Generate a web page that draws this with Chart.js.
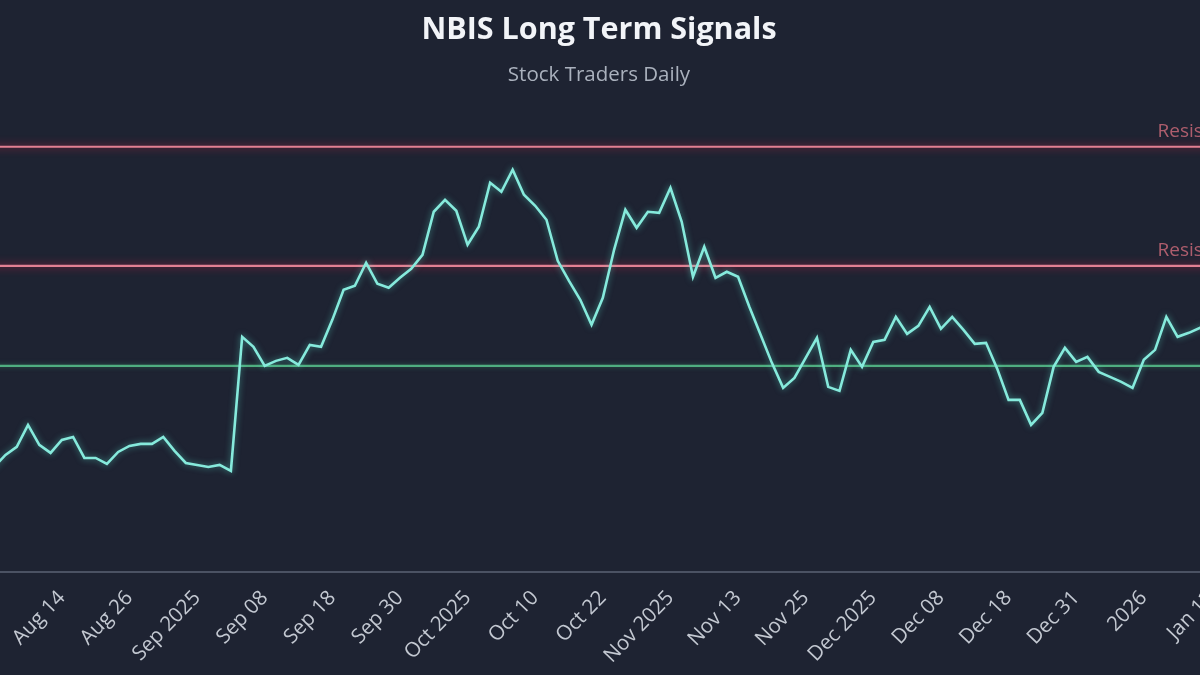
<!DOCTYPE html>
<html>
<head>
<meta charset="utf-8">
<script src="https://cdn.jsdelivr.net/npm/chart.js@4/dist/chart.umd.min.js"></script>
<style>
  html, body { margin: 0; padding: 0; background: #1e2332; overflow: hidden; }
  body { width: 1200px; height: 675px; position: relative; }
  #wrap { position: absolute; left: -70px; top: 0; width: 1340px; height: 675px; }
</style>
</head>
<body>
<div id="wrap"><canvas id="chart"></canvas></div>
<script>
// daily closes, one per trading day (left part is cut off in the original)
const prices = [
    69.2, 70.2, 68.8, 69.8, 72.2, 73.8, 78.2, 74.2, 72.6, 75.2,
    75.8, 71.6, 71.6, 70.4, 72.8, 74.0, 74.4, 74.4, 75.8, 73.0,
    70.6, 70.2, 69.8, 70.2, 69.0, 95.8, 93.8, 90.0, 91.0, 91.6,
    90.2, 94.2, 93.8, 99.2, 105.2, 106.0, 110.6, 106.4, 105.6, 107.6,
    109.4, 112.2, 120.8, 123.2, 121.0, 114.2, 117.8, 126.6, 124.8, 129.2,
    124.2, 122.0, 119.2, 111.0, 107.0, 103.2, 98.2, 103.6, 113.2, 121.2,
    117.6, 120.8, 120.6, 125.6, 118.8, 107.8, 113.8, 107.6, 108.8, 107.8,
    101.8, 96.2, 90.6, 85.6, 87.6, 91.6, 95.6, 85.8, 85.0, 93.2,
    89.8, 94.8, 95.2, 99.8, 96.4, 98.0, 101.8, 97.4, 99.8, 97.2,
    94.4, 94.6, 89.4, 83.2, 83.2, 78.2, 80.6, 89.8, 93.6, 90.8,
    91.8, 88.8, 87.8, 86.8, 85.6, 91.2, 93.2, 99.8, 95.8, 96.6,
    97.6, 98.2, 97.2, 98.8, 98.4, 99.0
];

const tickLabels = [
    "Aug 14", "Aug 26", "Sep 2025", "Sep 08", "Sep 18", "Sep 30",
    "Oct 2025", "Oct 10", "Oct 22", "Nov 2025", "Nov 13", "Nov 25",
    "Dec 2025", "Dec 08", "Dec 18", "Dec 31", "2026", "Jan 13"
];
const firstTick = 9;
const tickStep = 6;

const resistanceLevels = [133.8, 110.0];
const supportLevels = [90.0];

const FONT = "'Open Sans', 'Liberation Sans', sans-serif";

const labels = prices.map((_, i) => i);
const flat = v => prices.map(() => v);

// soft glow under each line
const glowPlugin = {
    id: 'glow',
    beforeDatasetDraw(chart, args) {
        const ds = chart.data.datasets[args.index];
        chart.ctx.save();
        if (ds.glowColor) {
            chart.ctx.shadowColor = ds.glowColor;
            chart.ctx.shadowBlur = ds.glowBlur || 6;
        }
    },
    afterDatasetDraw(chart) {
        chart.ctx.restore();
    }
};

// "Resistance" text over the red levels
const levelLabels = {
    id: 'levelLabels',
    afterDatasetsDraw(chart) {
        const { ctx, chartArea, scales: { y } } = chart;
        ctx.save();
        ctx.font = `19px ${FONT}`;
        ctx.fillStyle = 'rgba(190, 100, 115, 0.9)';
        ctx.textAlign = 'left';
        ctx.textBaseline = 'alphabetic';
        resistanceLevels.forEach(level => {
            ctx.fillText('Resistance', chartArea.right - 99, y.getPixelForValue(level) - 10);
        });
        ctx.restore();
    }
};

const datasets = [{
    data: prices,
    borderColor: '#86eadc',
    borderWidth: 2.6,
    pointRadius: 0,
    tension: 0,
    glowColor: 'rgba(90, 225, 205, 0.55)',
    glowBlur: 6
}];
resistanceLevels.forEach(level => datasets.push({
    data: flat(level),
    borderColor: '#e38193',
    borderWidth: 2.2,
    pointRadius: 0,
    glowColor: 'rgba(190, 40, 70, 0.95)',
    glowBlur: 8
}));
supportLevels.forEach(level => datasets.push({
    data: flat(level),
    borderColor: '#4fae80',
    borderWidth: 2.4,
    pointRadius: 0,
    glowColor: 'rgba(60, 160, 110, 0.5)',
    glowBlur: 5
}));

new Chart(document.getElementById('chart'), {
    type: 'line',
    data: { labels: labels, datasets: datasets },
    options: {
        responsive: true,
        maintainAspectRatio: false,
        animation: false,
        layout: { padding: { left: 11.5, right: 13.5, top: 0, bottom: 0 } },
        plugins: {
            legend: { display: false },
            tooltip: { enabled: false },
            title: {
                display: true,
                text: 'NBIS Long Term Signals',
                color: '#f2f4f8',
                font: { family: FONT, size: 30.5, weight: 'bold' },
                padding: { top: 12, bottom: 8 }
            },
            subtitle: {
                display: true,
                text: 'Stock Traders Daily',
                color: '#aab1bd',
                font: { family: FONT, size: 20.5 },
                padding: { top: 6, bottom: 20.5 }
            }
        },
        scales: {
            x: {
                grid: { display: false, drawTicks: false },
                border: { display: true, color: '#4b5263', width: 2 },
                ticks: {
                    autoSkip: false,
                    minRotation: 46,
                    maxRotation: 46,
                    padding: 14,
                    color: '#c3c8d1',
                    font: { family: FONT, size: 20.5 },
                    callback: value => {
                        const j = (value - firstTick) / tickStep;
                        return Number.isInteger(j) && tickLabels[j] ? tickLabels[j] : '';
                    }
                },
                afterFit: scale => {
                    scale.height = 103;
                    scale.paddingLeft = 0;
                    scale.paddingRight = 0;
                }
            },
            y: {
                min: 48.8,
                max: 141.6,
                grid: { display: false },
                border: { display: false },
                ticks: { display: false },
                afterFit: scale => { scale.width = 18.9; }
            }
        }
    },
    plugins: [glowPlugin, levelLabels]
});
</script>
</body>
</html>
